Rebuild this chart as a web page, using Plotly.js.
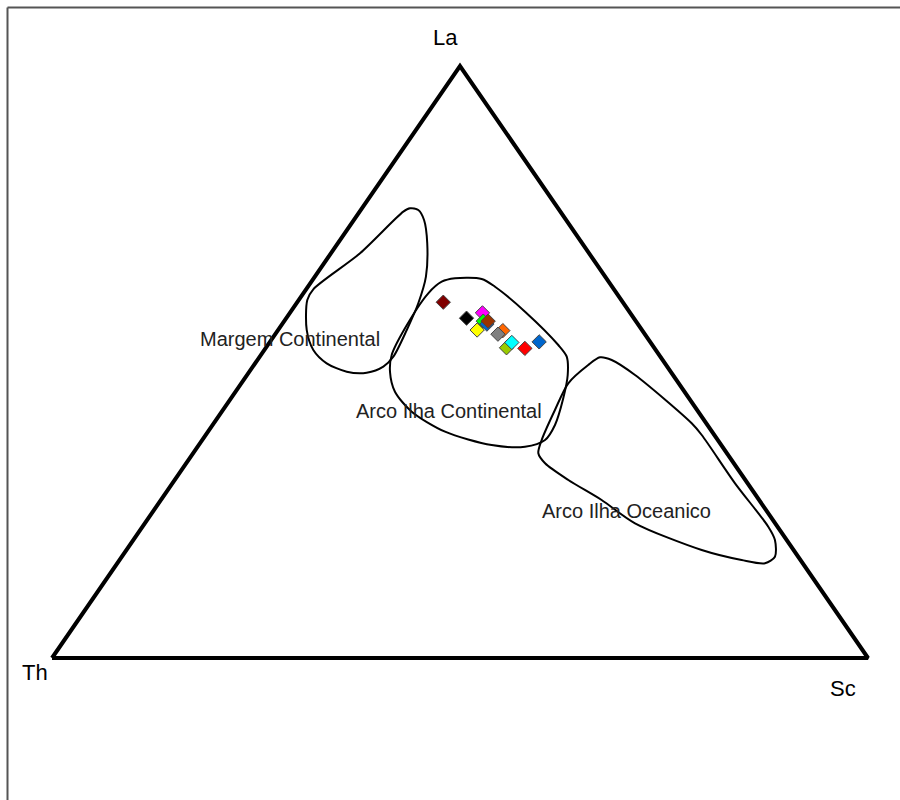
<!DOCTYPE html>
<html>
<head>
<meta charset="utf-8">
<script src="https://cdn.plot.ly/plotly-3.0.1.min.js"></script>
<style>
  body { margin: 0; background: #fff; }
  #chart { width: 900px; height: 800px; }
</style>
</head>
<body>
<div id="chart"></div>
<script>
// La-Th-Sc ternary diagram (Bhatia & Crook style tectonic fields)

// sample compositions, in percent
let sampleLa = [60.1, 57.4, 58.3, 56.9, 56.4, 56.9, 55.4, 55.3, 54.7, 52.4, 53.3, 52.3, 53.4];
let sampleTh = [22.0, 20.5, 18.1, 18.7, 18.5, 18.1, 20.2, 17.1, 18.0, 18.1, 17.0, 15.9, 13.6];
let sampleSc = [17.9, 22.1, 23.6, 24.4, 25.1, 25.0, 24.4, 27.6, 27.3, 29.5, 29.7, 31.8, 33.0];
let sampleColors = ['#800000', '#000000', '#ff00ff', '#00ff00', '#0066cc', '#993300', '#ffff00',
                    '#ff6600', '#808080', '#99cc00', '#00ffff', '#ff0000', '#0066cc'];

// field boundaries, La and Sc in percent (Th is the rest)
let margemLa = [75.96, 75.68, 73.99, 70.05, 64.41, 59.92, 55.41, 50.90, 49.21, 48.19,
                48.36, 49.78, 52.03, 55.41, 60.47, 62.28, 68.36, 75.39];
let margemSc = [5.89, 7.05, 8.60, 10.96, 13.62, 14.93, 15.77, 16.38, 16.00, 14.47,
                11.94, 8.77, 6.01, 3.51, 1.05, 0.88, 3.57, 5.36];

let arcoContLa = [64.14, 64.02, 62.72, 58.50, 52.87, 50.90, 47.80, 43.87, 39.36, 36.82,
                  35.69, 35.98, 38.23, 41.61, 44.98, 48.36, 51.18, 55.69, 61.60, 63.56];
let arcoContSc = [17.32, 20.65, 22.93, 28.72, 35.61, 37.63, 39.30, 40.72, 41.96, 42.01,
                  40.12, 35.89, 29.05, 23.28, 19.54, 17.24, 16.04, 15.41, 15.31, 15.98];

let arcoOceLa = [50.79, 50.34, 47.80, 39.65, 37.67, 29.51, 22.18, 19.93, 17.11, 16.00,
                 16.55, 18.24, 22.75, 26.69, 30.07, 32.89, 34.58, 36.82, 41.89, 46.40, 49.49];
let arcoOceSc = [41.76, 43.42, 47.55, 58.57, 60.79, 68.95, 76.69, 78.63, 80.04, 79.38,
                 76.24, 70.50, 60.07, 54.01, 48.24, 43.98, 42.31, 41.60, 40.69, 40.07, 40.97];

// Th at bottom left, Sc at bottom right, La on top
function toX(la, sc) { return sc / 100 + la / 200; }
function toY(la) { return la / 100; }

function fieldTrace(laArr, scArr) {
    let xs = [];
    let ys = [];
    for (let i = 0; i <= laArr.length; i++) {
        let k = i % laArr.length;
        xs.push(toX(laArr[k], scArr[k]));
        ys.push(toY(laArr[k]));
    }
    return {x: xs, y: ys, mode: 'lines', hoverinfo: 'skip',
            line: {color: '#000', width: 2, shape: 'spline', smoothing: 0.8}};
}

let triLa = [0, 0, 100, 0];
let triSc = [0, 100, 0, 0];
let triangle = {
    x: triLa.map(function(la, i) { return toX(la, triSc[i]); }),
    y: triLa.map(toY),
    mode: 'lines', hoverinfo: 'skip',
    line: {color: '#000', width: 4}
};

let samples = {
    x: sampleLa.map(function(la, i) {
        let s = la + sampleTh[i] + sampleSc[i];
        return toX(100 * la / s, 100 * sampleSc[i] / s);
    }),
    y: sampleLa.map(function(la, i) {
        let s = la + sampleTh[i] + sampleSc[i];
        return toY(100 * la / s);
    }),
    mode: 'markers',
    marker: {symbol: 'diamond', size: 11, color: sampleColors, line: {color: '#444', width: 1}}
};

let traces = [triangle,
              fieldTrace(margemLa, margemSc),
              fieldTrace(arcoContLa, arcoContSc),
              fieldTrace(arcoOceLa, arcoOceSc),
              samples];

let labelFont = {family: 'Liberation Sans, Arial, sans-serif', size: 20, color: '#222'};
let cornerFont = {family: 'Liberation Sans, Arial, sans-serif', size: 22, color: '#000'};

function label(text, px, py, font) {
    return {text: text, xref: 'paper', yref: 'paper', x: px / 900, y: 1 - py / 800,
            xanchor: 'center', yanchor: 'middle', showarrow: false, font: font};
}

let layout = {
    width: 900, height: 800,
    margin: {l: 0, r: 0, t: 0, b: 0},
    paper_bgcolor: '#fff', plot_bgcolor: '#fff',
    showlegend: false,
    xaxis: {range: [-52 / 816, 848 / 816], visible: false, fixedrange: true},
    yaxis: {range: [-142 / 592, 658 / 592], visible: false, fixedrange: true},
    annotations: [
        label('La', 445, 38, cornerFont),
        label('Th', 35, 672, cornerFont),
        label('Sc', 843, 688, cornerFont),
        label('Margem Continental', 290, 339, labelFont),
        label('Arco Ilha Continental', 449, 411, labelFont),
        label('Arco Ilha Oceanico', 626, 511, labelFont)
    ],
    shapes: [
        {type: 'line', xref: 'paper', yref: 'paper', x0: 7.5 / 900, x1: 1,
         y0: 1 - 7.5 / 800, y1: 1 - 7.5 / 800, line: {color: '#555', width: 2}},
        {type: 'line', xref: 'paper', yref: 'paper', x0: 7.5 / 900, x1: 7.5 / 900,
         y0: 0, y1: 1 - 7.5 / 800, line: {color: '#555', width: 2}}
    ]
};

Plotly.newPlot('chart', traces, layout, {displayModeBar: false, staticPlot: true});
</script>
</body>
</html>
